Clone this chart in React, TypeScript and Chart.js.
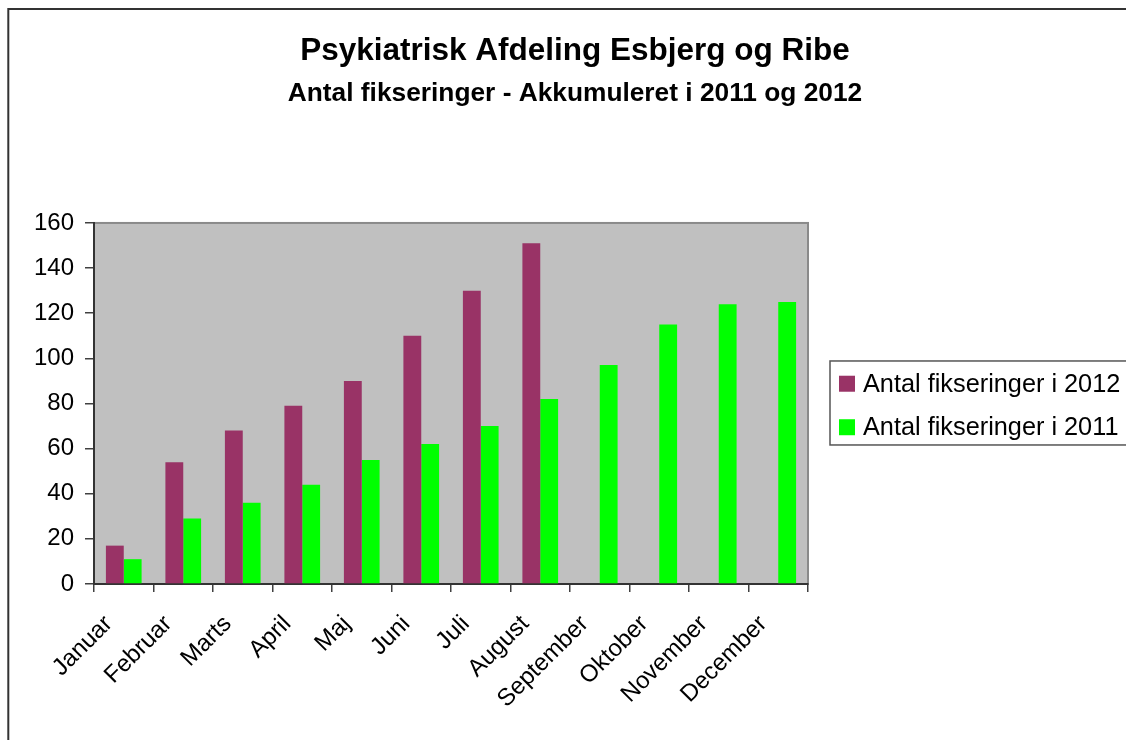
import React, { useEffect, useRef } from 'react';
import { Chart, registerables, layouts } from 'chart.js';

Chart.register(...registerables);

const FONT = '"Liberation Sans", Arial, Helvetica, sans-serif';

const titleText = 'Psykiatrisk Afdeling Esbjerg og Ribe';
const subtitleText = 'Antal fikseringer - Akkumuleret i 2011 og 2012';

const months = [
  'Januar', 'Februar', 'Marts', 'April', 'Maj', 'Juni',
  'Juli', 'August', 'September', 'Oktober', 'November', 'December',
];

const seriesLabels = ['Antal fikseringer i 2012', 'Antal fikseringer i 2011'];
const values2012 = [17, 54, 68, 79, 90, 110, 130, 151, null, null, null, null];
const values2011 = [11, 29, 36, 44, 55, 62, 70, 82, 97, 115, 124, 125];
const seriesColors = ['#993366', '#00FF00'];

const yMin = 0;
const yMax = 160;
const yStep = 20;

export default function App() {
  const ref = useRef<HTMLCanvasElement>(null);

  useEffect(() => {
    const canvas = ref.current;
    if (!canvas) return;

    const sideLegend = {
      id: 'sideLegend',
      beforeInit(chart: any) {
        const box: any = {
          position: 'right',
          weight: 10,
          fullSize: false,
          options: { stackWeight: 1 },
          left: 0, top: 0, right: 0, bottom: 0, width: 0, height: 0,
          isHorizontal: () => false,
          update(maxW: number, maxH: number) {
            box.width = 318;
            box.height = maxH;
          },
          draw() {
            const ctx = chart.ctx;
            const a = chart.chartArea;
            const cy = (a.top + a.bottom) / 2;
            const left = box.left + 22;
            const top = cy - 42.5;
            const bottom = cy + 41.5;
            ctx.save();
            ctx.strokeStyle = '#555555';
            ctx.lineWidth = 1.5;
            ctx.strokeRect(left, top, 600, bottom - top);
            const rowGap = 43.5;
            chart.data.datasets.forEach((ds: any, i: number) => {
              const y = cy + 2 - rowGap / 2 + i * rowGap;
              ctx.fillStyle = ds.backgroundColor;
              ctx.fillRect(left + 9, y - 8, 16, 16);
              ctx.fillStyle = '#000000';
              ctx.font = `25.3px ${FONT}`;
              ctx.textBaseline = 'middle';
              ctx.textAlign = 'left';
              ctx.fillText(ds.label, left + 33, y + 1);
            });
            ctx.restore();
          },
        };
        layouts.addBox(chart, box);
      },
    };

    const plotBg = {
      id: 'plotBg',
      beforeDraw(chart: any) {
        const { ctx, chartArea: a } = chart;
        ctx.save();
        ctx.fillStyle = '#FFFFFF';
        ctx.fillRect(0, 0, chart.width, chart.height);
        ctx.fillStyle = '#C0C0C0';
        ctx.fillRect(a.left, a.top, a.right - a.left, a.bottom - a.top);
        ctx.strokeStyle = '#8A8A8A';
        ctx.lineWidth = 2;
        ctx.strokeRect(a.left, a.top, a.right - a.left, a.bottom - a.top);
        // outer chart frame
        ctx.strokeStyle = '#333333';
        ctx.lineWidth = 2;
        ctx.beginPath();
        ctx.moveTo(8.3, 3000);
        ctx.lineTo(8.3, 9);
        ctx.lineTo(3000, 9);
        ctx.stroke();
        ctx.restore();
      },
    };

    const chart = new Chart(canvas, {
      type: 'bar',
      data: {
        labels: months,
        datasets: [
          {
            label: seriesLabels[0],
            data: values2012,
            backgroundColor: seriesColors[0],
            borderWidth: 0,
            categoryPercentage: 0.6,
            barPercentage: 1.0,
          },
          {
            label: seriesLabels[1],
            data: values2011,
            backgroundColor: seriesColors[1],
            borderWidth: 0,
            categoryPercentage: 0.6,
            barPercentage: 1.0,
          },
        ],
      },
      options: {
        responsive: false,
        animation: false,
        devicePixelRatio: 1,
        layout: { padding: { left: 24, right: 0, top: 0, bottom: 0 } },
        plugins: {
          legend: { display: false },
          tooltip: { enabled: false },
          title: {
            display: true,
            text: titleText,
            color: '#000000',
            font: { family: FONT, size: 31.5, weight: 'bold', lineHeight: 1.2 },
            padding: { top: 32, bottom: 0 },
          },
          subtitle: {
            display: true,
            text: subtitleText,
            color: '#000000',
            font: { family: FONT, size: 26.3, weight: 'bold', lineHeight: 1.2 },
            padding: { top: 8, bottom: 113.6 },
          },
        },
        scales: {
          x: {
            grid: {
              display: true,
              drawOnChartArea: false,
              drawTicks: true,
              tickLength: 8,
              color: '#404040',
              lineWidth: 1.5,
            },
            border: { display: true, color: '#333333', width: 2 },
            ticks: {
              color: '#000000',
              font: { family: FONT, size: 24 },
              minRotation: 45,
              maxRotation: 45,
              padding: 18,
              labelOffset: -15,
              autoSkip: false,
            },
            afterFit(scale: any) {
              scale.height = 156;
            },
          },
          y: {
            min: yMin,
            max: yMax,
            grid: {
              display: true,
              drawOnChartArea: false,
              drawTicks: true,
              tickLength: 9,
              color: '#404040',
              lineWidth: 1.5,
            },
            border: { display: true, color: '#333333', width: 2 },
            ticks: {
              stepSize: yStep,
              color: '#000000',
              font: { family: FONT, size: 24 },
              padding: 11,
            },
            afterFit(scale: any) {
              scale.width = 70;
            },
          },
        },
      } as any,
      plugins: [plotBg, sideLegend],
    });

    return () => {
      chart.destroy();
    };
  }, []);

  return (
    <div style={{ position: 'fixed', left: 0, top: 0, width: 1126, height: 740, overflow: 'hidden', background: '#fff' }}>
      <canvas ref={ref} width={1126} height={740} style={{ display: 'block' }} />
    </div>
  );
}
